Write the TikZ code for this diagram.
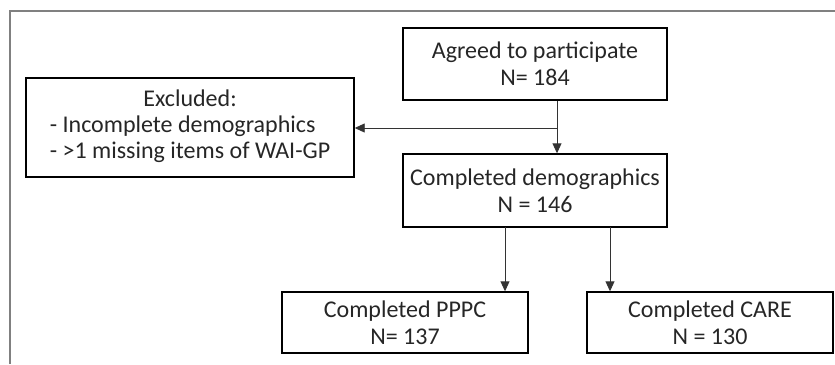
\documentclass[tikz,border=0pt]{standalone}
\usepackage{fontspec}
\setmainfont{Carlito}
\usetikzlibrary{arrows.meta}
\newcommand\bigf{\fontsize{24pt}{27pt}\selectfont}
\newcommand\bigfx{\fontsize{24pt}{26pt}\selectfont}
\begin{document}
\begin{tikzpicture}[x=1pt,y=-1pt,
  box/.style={draw=black,line width=1.4pt,align=center,inner sep=0pt,
    font=\bigf,text=black!85},
  conn/.style={draw=black!80,line width=0.9pt,-{Triangle[length=10pt,width=9pt]}}]
\useasboundingbox (0,0) rectangle (835,364);
\draw[gray,line width=2pt] (10,364) -- (10,11) -- (835,11);
\node[box,minimum width=264pt,minimum height=72pt] (agreed) at (535,64) {Agreed to participate\\N= 184};
\node[box,minimum width=328pt,minimum height=99pt,font=\bigfx] (excl) at (190,127.5)
  {\begin{tabular}{@{}l@{}}\multicolumn{1}{@{}c@{}}{Excluded:}\\- Incomplete demographics\\- >1 missing items of WAI-GP\end{tabular}};
\node[box,minimum width=264pt,minimum height=73pt] (demo) at (535,190.5) {Completed demographics\\N = 146};
\node[box,minimum width=246pt,minimum height=61pt] (pppc) at (405,322.5) {Completed PPPC\\N= 137};
\node[box,minimum width=246pt,minimum height=61pt] (care) at (710,322.5) {Completed CARE\\N = 130};
\coordinate (j) at (557,128);
\coordinate (d1) at (505,227);
\coordinate (d2) at (610,227);
\draw[conn] (agreed.south -| j) -- (demo.north -| j);
\draw[conn] (j) -- (excl.east |- j);
\draw[conn] (d1) -- (d1 |- pppc.north);
\draw[conn] (d2) -- (d2 |- care.north);
\end{tikzpicture}
\end{document}
